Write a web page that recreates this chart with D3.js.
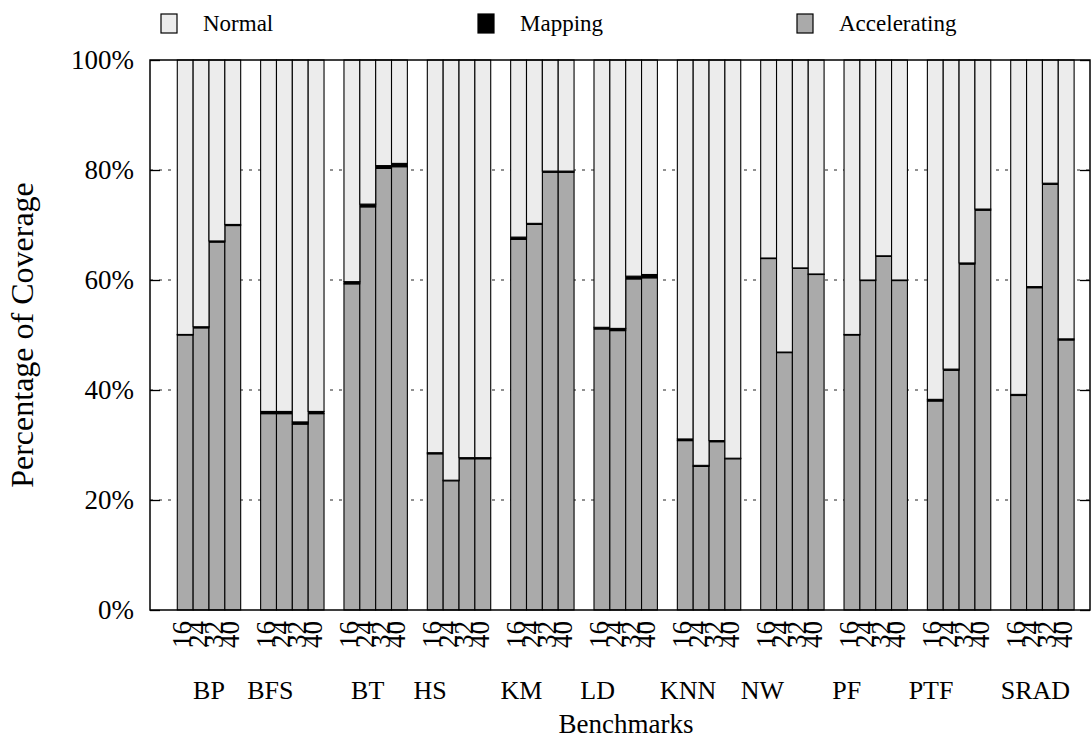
<!DOCTYPE html>
<html>
<head>
<meta charset="utf-8">
<script src="https://cdn.jsdelivr.net/npm/d3@7"></script>
<style>
  html, body { margin: 0; padding: 0; background: #fff; }
  svg { display: block; font-family: "Liberation Serif", "Times New Roman", serif; }
</style>
</head>
<body>
<svg id="chart" width="1091" height="745"></svg>
<script>
// Benchmarks and the four configurations drawn for each of them
const benchmarks = ["BP", "BFS", "BT", "HS", "KM", "LD", "KNN", "NW", "PF", "PTF", "SRAD"];
const configs = ["16", "24", "32", "40"];

// Share of coverage (%) per benchmark, one value per configuration
const accelerating = [
  [50.0, 51.3, 66.9, 69.9],
  [35.7, 35.7, 33.8, 35.7],
  [59.3, 73.3, 80.3, 80.6],
  [28.4, 23.5, 27.5, 27.5],
  [67.4, 70.1, 79.6, 79.6],
  [51.1, 50.8, 60.2, 60.4],
  [30.8, 26.1, 30.6, 27.5],
  [63.9, 46.8, 62.1, 61.0],
  [50.0, 59.9, 64.3, 59.9],
  [38.0, 43.6, 62.9, 72.7],
  [39.0, 58.6, 77.4, 49.1]
];
const mapping = [
  [0.1, 0.2, 0.2, 0.2],
  [0.4, 0.4, 0.4, 0.4],
  [0.4, 0.5, 0.5, 0.6],
  [0.2, 0.1, 0.2, 0.2],
  [0.4, 0.2, 0.2, 0.2],
  [0.3, 0.4, 0.5, 0.6],
  [0.3, 0.2, 0.2, 0.1],
  [0.1, 0.1, 0.1, 0.1],
  [0.1, 0.1, 0.1, 0.1],
  [0.3, 0.2, 0.2, 0.2],
  [0.2, 0.2, 0.2, 0.2]
];

const yTicks = [0, 20, 40, 60, 80, 100];
const seriesKeys = ["Accelerating", "Mapping", "Normal"];
const legendOrder = ["Normal", "Mapping", "Accelerating"];

// Horizontal nudges of the benchmark names under each cluster (px)
const nameShift = [0, -22, -8, -29, -21, -28, -21, -30, -29, -28, -7];

// Normal is whatever remains of each bar
const rows = [];
benchmarks.forEach((b, i) => {
  configs.forEach((c, j) => {
    const a = accelerating[i][j], m = mapping[i][j];
    rows.push({ bench: b, cfg: c, Accelerating: a, Mapping: m, Normal: 100 - a - m });
  });
});

const colors = { Normal: "#ececec", Mapping: "#000000", Accelerating: "#aaaaaa" };

const svg = d3.select("#chart");
const M = { left: 150, right: 1090, top: 60, bottom: 610 };

const x0 = d3.scaleBand()
  .domain(benchmarks)
  .range([M.left, M.right])
  .paddingInner(0.2393)
  .paddingOuter(0.259)
  .align(0.632);

const x1 = d3.scaleBand()
  .domain(configs)
  .range([0, x0.bandwidth()])
  .padding(0);

const y = d3.scaleLinear().domain([0, 100]).range([M.bottom, M.top]);

// dashed grid
svg.append("g")
  .selectAll("line")
  .data(yTicks.filter(t => t > 0 && t < 100))
  .join("line")
  .attr("x1", M.left).attr("x2", M.right)
  .attr("y1", d => y(d)).attr("y2", d => y(d))
  .attr("stroke", "#222")
  .attr("stroke-width", 1)
  .attr("stroke-dasharray", "3,6");

// stacked bars
const stacked = d3.stack().keys(seriesKeys)(rows);
const barG = svg.append("g");
stacked.forEach(layer => {
  barG.append("g")
    .selectAll("rect")
    .data(layer)
    .join("rect")
    .attr("x", d => x0(d.data.bench) + x1(d.data.cfg))
    .attr("width", x1.bandwidth())
    .attr("y", d => y(d[1]))
    .attr("height", d => y(d[0]) - y(d[1]))
    .attr("fill", colors[layer.key])
    .attr("stroke", "#000")
    .attr("stroke-width", 1.1);
});

// frame
svg.append("rect")
  .attr("x", M.left).attr("y", M.top)
  .attr("width", M.right - M.left).attr("height", M.bottom - M.top)
  .attr("fill", "none").attr("stroke", "#000").attr("stroke-width", 1.5);

// y axis: inward ticks on both sides
const yAxisL = d3.axisLeft(y).tickValues(yTicks).tickSize(-10).tickPadding(16)
  .tickFormat(d => d + "%");
svg.append("g")
  .attr("transform", `translate(${M.left},0)`)
  .call(yAxisL)
  .call(g => g.select(".domain").remove())
  .call(g => g.selectAll("line").attr("stroke", "#000").attr("stroke-width", 1.3))
  .call(g => g.selectAll("text")
    .attr("font-family", "Liberation Serif, serif")
    .attr("font-size", 27).attr("fill", "#000"));

const yAxisR = d3.axisRight(y).tickValues(yTicks).tickSize(-10).tickFormat("");
svg.append("g")
  .attr("transform", `translate(${M.right},0)`)
  .call(yAxisR)
  .call(g => g.select(".domain").remove())
  .call(g => g.selectAll("line").attr("stroke", "#000").attr("stroke-width", 1.3));

// rotated configuration labels under each bar
svg.append("g")
  .selectAll("text")
  .data(rows)
  .join("text")
  .attr("transform", d => `translate(${x0(d.bench) + x1(d.cfg) + x1.bandwidth() / 2},621) rotate(-90)`)
  .attr("dy", "0.22em")
  .attr("text-anchor", "end")
  .attr("font-size", 27)
  .text(d => d.cfg);

// benchmark names
svg.append("g")
  .selectAll("text")
  .data(benchmarks)
  .join("text")
  .attr("x", (d, i) => x0(d) + x0.bandwidth() / 2 + nameShift[i])
  .attr("y", 699)
  .attr("text-anchor", "middle")
  .attr("font-size", 26)
  .text(d => d);

// axis titles
svg.append("text")
  .attr("x", 626).attr("y", 733)
  .attr("text-anchor", "middle")
  .attr("font-size", 27)
  .text("Benchmarks");

svg.append("text")
  .attr("transform", "translate(33,335) rotate(-90)")
  .attr("text-anchor", "middle")
  .attr("font-size", 32)
  .text("Percentage of Coverage");

// legend
const legendX = { Normal: 161, Mapping: 478, Accelerating: 797 };
const lg = svg.append("g")
  .selectAll("g")
  .data(legendOrder)
  .join("g")
  .attr("transform", d => `translate(${legendX[d]},14)`);
lg.append("rect")
  .attr("width", 16).attr("height", 19)
  .attr("fill", d => colors[d])
  .attr("stroke", "#000").attr("stroke-width", 1.2);
lg.append("text")
  .attr("x", 42).attr("y", 17)
  .attr("font-size", 23)
  .text(d => d);
</script>
</body>
</html>
